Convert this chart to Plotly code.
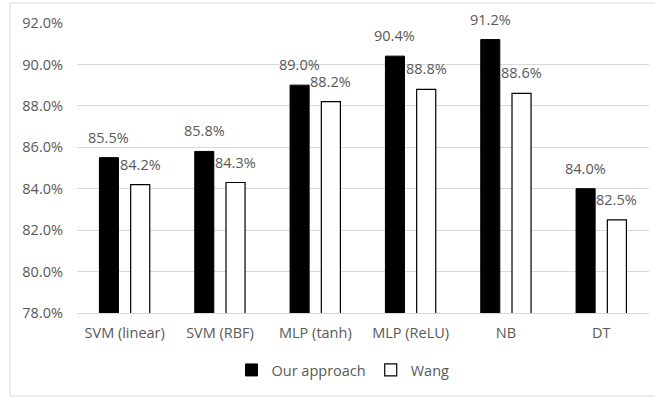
import plotly.graph_objects as go

categories = ["SVM (linear)", "SVM (RBF)", "MLP (tanh)", "MLP (ReLU)", "NB", "DT"]
ours = [85.5, 85.8, 89.0, 90.4, 91.2, 84.0]
wang = [84.2, 84.3, 88.2, 88.8, 88.6, 82.5]
series_names = ["Our approach", "Wang"]
y_ticks = [78, 80, 82, 84, 86, 88, 90, 92]

FONT = "Open Sans"
TXT = "#595959"
GRID = "#d9d9d9"
FS = 14.5

L, R, T, B = 77, 6, 23, 84
W, H = 655, 397
pw, ph = W - L - R, H - T - B

fig = go.Figure()
bar_w = 0.2
fig.add_trace(go.Bar(x=categories, y=ours, name=series_names[0], width=bar_w, offset=-0.265,
                     marker=dict(color="black", line=dict(color="black", width=1))))
fig.add_trace(go.Bar(x=categories, y=wang, name=series_names[1], width=bar_w, offset=0.063,
                     marker=dict(color="white", line=dict(color="black", width=1.2))))

cat_px = pw / len(categories)
annotations = []
for c, v in zip(categories, ours):
    annotations.append(dict(x=c, y=v, text=f"{v:.1f}%", showarrow=False, xanchor="center",
                            yanchor="bottom", xshift=-0.165 * cat_px, yshift=9,
                            font=dict(family=FONT, size=FS, color=TXT)))
for c, v in zip(categories, wang):
    annotations.append(dict(x=c, y=v, text=f"{v:.1f}%", showarrow=False, xanchor="center",
                            yanchor="bottom", xshift=0.163 * cat_px, yshift=9,
                            font=dict(family=FONT, size=FS, color=TXT)))

fig.update_layout(
    width=W, height=H,
    margin=dict(l=L, r=R, t=T, b=B),
    plot_bgcolor="white", paper_bgcolor="white",
    barmode="group",
    font=dict(family=FONT, size=FS, color=TXT),
    showlegend=True,
    legend=dict(orientation="h", x=(343 - L) / pw, xanchor="center", y=(313 - 370) / ph,
                yanchor="middle", font=dict(family=FONT, size=FS, color=TXT),
                itemwidth=30, traceorder="normal"),
    annotations=annotations,
    shapes=[dict(type="rect", xref="paper", yref="paper",
                 x0=(10 - L) / pw, x1=(W + 5 - L) / pw,
                 y0=(313 - 396) / ph, y1=(313 - 3) / ph,
                 line=dict(color=GRID, width=1), fillcolor="rgba(0,0,0,0)", layer="below")],
)
fig.update_yaxes(range=[78, 92], tickvals=y_ticks, ticktext=[f"{t:.1f}%" for t in y_ticks],
                 showgrid=True, gridcolor=GRID, gridwidth=1, zeroline=False, showline=False,
                 ticks="", ticklabelstandoff=13, tickfont=dict(family=FONT, size=FS, color=TXT))
fig.update_xaxes(showline=True, linecolor=GRID, linewidth=1, ticks="", showgrid=False,
                 ticklabelstandoff=7, tickfont=dict(family=FONT, size=FS, color=TXT))

fig.write_html("out.html")
